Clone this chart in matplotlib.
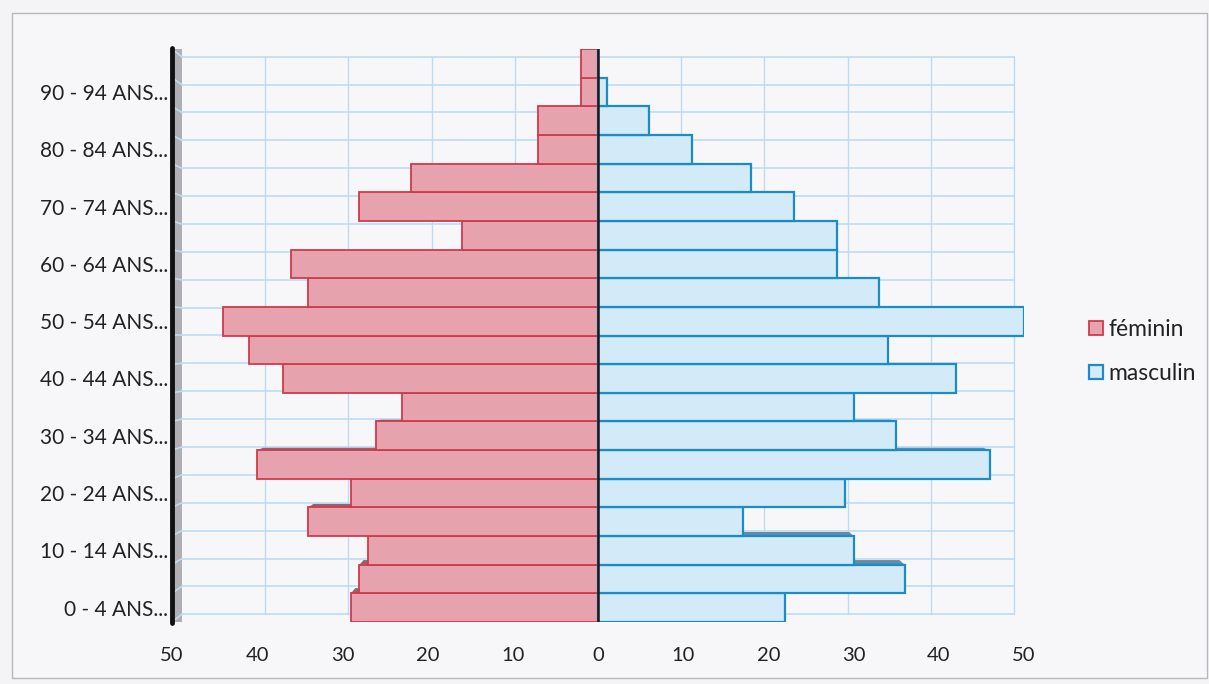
import matplotlib
matplotlib.use("Agg")
import matplotlib.pyplot as plt
from matplotlib.patches import Rectangle, Polygon
import numpy as np

plt.rcParams['font.family'] = ['Lato', 'DejaVu Sans']

# ---- data ----
age_groups = ["0 - 4 ANS", "5 - 9 ANS", "10 - 14 ANS", "15 - 19 ANS", "20 - 24 ANS",
              "25 - 29 ANS", "30 - 34 ANS", "35 - 39 ANS", "40 - 44 ANS", "45 - 49 ANS",
              "50 - 54 ANS", "55 - 59 ANS", "60 - 64 ANS", "65 - 69 ANS", "70 - 74 ANS",
              "75 - 79 ANS", "80 - 84 ANS", "85 - 89 ANS", "90 - 94 ANS", "95 ANS ET PLUS"]
feminin = [29, 28, 27, 34, 29, 40, 26, 23, 37, 41, 44, 34, 36, 16, 28, 22, 7, 7, 2, 2]
masculin = [22, 36, 30, 17, 29, 46, 35, 30, 42, 34, 50, 33, 28, 28, 23, 18, 11, 6, 1, 0]
x_ticks = [-50, -40, -30, -20, -10, 0, 10, 20, 30, 40, 50]
x_ticklabels = ["50", "40", "30", "20", "10", "0", "10", "20", "30", "40", "50"]

W, H = 1209, 684
fig = plt.figure(figsize=(W / 100, H / 100), dpi=100)
fig.patch.set_facecolor('#f4f4f6')

# frame
frame = Rectangle((12 / W, 6 / H), (W - 14) / W, (H - 19) / H, transform=fig.transFigure,
                  facecolor='#f7f7f9', edgecolor='#b8b8bc', linewidth=1.0, zorder=-10)
fig.add_artist(frame)

ax = fig.add_axes([172 / W, 1 - 622 / H, 852 / W, 573 / H])
ax.set_zorder(5)
ax.set_facecolor('none')
n = len(age_groups)
y = np.arange(n)
ax.set_xlim(-50, 50)
ax.set_ylim(-0.5, n - 0.5)

# back-wall grid (slight perspective shrink)
sx, sy, cy = 0.977, 0.973, (n - 1) / 2
grid_c = '#bddcf3'
ybot = cy + sy * (-0.5 - cy)
ytop = cy + sy * (n - 0.5 - cy)
for v in range(-40, 51, 10):
    ax.plot([v * sx, v * sx], [ybot, ytop], color=grid_c, lw=1.0, zorder=1)
for b in np.arange(-0.5, n, 1.0):
    yb = cy + sy * (b - cy)
    ax.plot([-50 * sx, 50 * sx], [yb, yb], color=grid_c, lw=1.2, zorder=1)
    ax.plot([-50, -50 * sx], [b, yb], color=grid_c, lw=1.2, zorder=1)

# left 3D wall strip
ax.add_patch(Rectangle((-50, -0.5), 50 * (1 - sx), n, facecolor='#b0b0b4',
                       edgecolor='none', zorder=0.5))

fem_vals = [-v for v in feminin]
ax.barh(y, fem_vals, height=1.0, color='#e6a3ad', edgecolor='#cf3a4c', linewidth=1.3,
        label='féminin', zorder=3)
ax.barh(y, masculin, height=1.0, color='#d3eaf8', edgecolor='#1b8cc4', linewidth=1.6,
        label='masculin', zorder=3)

# visible top faces of the 3D bars
f = 0.75
kx = 1 - f * (1 - sx)
for vals, col in ((fem_vals, '#94646d'), (masculin, '#658ca6')):
    for i in range(n - 1):
        v, va = vals[i], vals[i + 1]
        if abs(v) <= abs(va):
            continue
        t = i + 0.5
        dyy = f * (1 - sy) * (cy - t)
        if dyy <= 0.04:
            continue
        ax.add_patch(Polygon([(va, t), (v, t), (v * kx, t + dyy), (va * kx, t + dyy)],
                             closed=True, facecolor=col, edgecolor='none', zorder=2.5))

ax.axvline(0, color='#1a1a1a', lw=1.8, zorder=5)
ax.plot([-50, -50], [-0.55, n - 0.45], color='#111111', lw=3.5, zorder=6,
        solid_capstyle='round', clip_on=False)

for s in ax.spines.values():
    s.set_visible(False)

ax.set_xticks(x_ticks)
ax.set_xticklabels(x_ticklabels, fontsize=14.5, color='#222222')
ax.tick_params(axis='x', length=0, pad=18)
ax.set_yticks(y[::2])
ax.set_yticklabels([g + "..." for g in age_groups[::2]], fontsize=15, color='#222222')
ax.tick_params(axis='y', length=0, pad=3)

leg = ax.legend(loc='center left', bbox_to_anchor=(1.076, 0.472), frameon=False,
                fontsize=16.5, handlelength=0.6, handleheight=0.6, labelspacing=1.0,
                handletextpad=0.25, borderpad=0, borderaxespad=0)
for t in leg.get_texts():
    t.set_color('#222222')

fig.savefig('out.png', dpi=100, facecolor=fig.get_facecolor())
